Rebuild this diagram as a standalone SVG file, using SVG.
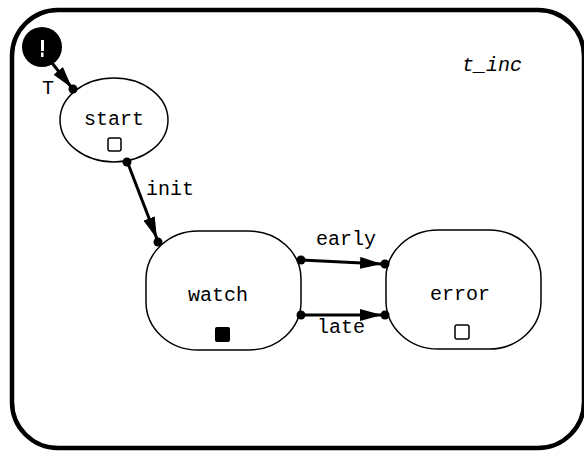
<svg xmlns="http://www.w3.org/2000/svg" width="584" height="457" viewBox="0 0 584 457">
<style>
.node{fill:#fff;stroke:#000;stroke-width:1.5}
.lbl{font-family:"Liberation Mono","DejaVu Sans Mono",monospace;font-size:20px;fill:#000}
.edge{stroke:#000;stroke-width:3;fill:none}
.dot{fill:#000}
.sq{fill:#fff;stroke:#000;stroke-width:1.5}
</style>
<defs>
<marker id="ah" markerWidth="24" markerHeight="12" refX="22" refY="6" orient="auto" markerUnits="userSpaceOnUse">
<path d="M0,0 L22,6 L0,12 Z" fill="#000"/>
</marker>
</defs>
<rect id="frame" x="12" y="10" width="572" height="438" rx="46" ry="46" fill="#fff" stroke="#000" stroke-width="4.5"/>
<text x="492" y="71" class="lbl" font-style="italic" text-anchor="middle">t_inc</text>
<g id="initial">
<circle cx="42" cy="47" r="20" fill="#000"/>
<rect x="41" y="40" width="3" height="11" fill="#fff"/>
<rect x="41" y="52.5" width="2.5" height="4.5" fill="#fff"/>
</g>
<g id="start">
<ellipse cx="114" cy="120" rx="54" ry="42" class="node"/>
<text x="114" y="125" class="lbl" text-anchor="middle">start</text>
<rect x="108" y="138" width="13" height="13" rx="2" class="sq"/>
</g>
<g id="watch">
<rect x="146" y="231" width="155" height="119" rx="52" ry="48" class="node"/>
<text x="218" y="301" class="lbl" text-anchor="middle">watch</text>
<rect x="215" y="327" width="15" height="15" rx="2" fill="#000"/>
</g>
<g id="error">
<rect x="386" y="230" width="155" height="119" rx="52" ry="48" class="node"/>
<text x="460" y="300" class="lbl" text-anchor="middle">error</text>
<rect x="455" y="325" width="14" height="14" rx="2" class="sq"/>
</g>
<g id="connectors">
<line x1="48" y1="58" x2="72" y2="88" class="edge" marker-end="url(#ah)"/>
<circle cx="73" cy="89" r="4.5" class="dot"/>
<text x="48" y="94" class="lbl" text-anchor="middle">T</text>
<line x1="127" y1="161" x2="157" y2="239" class="edge" marker-end="url(#ah)"/>
<circle cx="127" cy="162" r="4.5" class="dot"/>
<circle cx="158" cy="242" r="4.5" class="dot"/>
<text x="170" y="195" class="lbl" text-anchor="middle">init</text>
<line x1="301" y1="260" x2="382" y2="264" class="edge" marker-end="url(#ah)"/>
<circle cx="301" cy="260" r="4.5" class="dot"/>
<circle cx="385" cy="264" r="4.5" class="dot"/>
<text x="346" y="245" class="lbl" text-anchor="middle">early</text>
<line x1="301" y1="315" x2="382" y2="315" class="edge" marker-end="url(#ah)"/>
<circle cx="301" cy="315" r="4.5" class="dot"/>
<circle cx="385" cy="315" r="4.5" class="dot"/>
<text x="341" y="333" class="lbl" text-anchor="middle">late</text>
</g>
</svg>
